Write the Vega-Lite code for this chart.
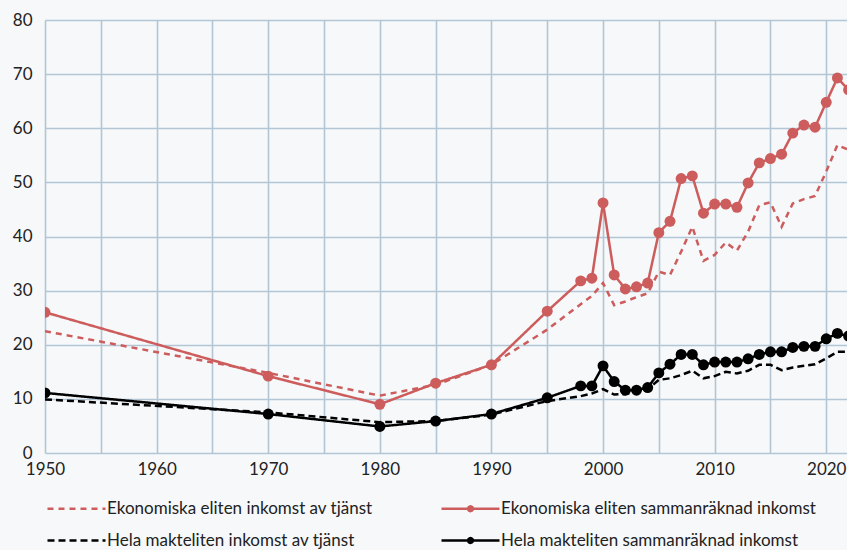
{
  "$schema": "https://vega.github.io/schema/vega-lite/v6.json",
  "autosize": {"type": "none"},
  "width": 802,
  "height": 433,
  "padding": {"left": 45, "top": 20, "right": 0, "bottom": 97},
  "background": "#f6f8fa",
  "config": {
    "view": {"stroke": null},
    "font": "Lato",
    "axis": {"labelFont": "Lato", "labelFontSize": 17, "labelColor": "#222", "gridColor": "#b2c6d5", "gridWidth": 1.6, "domain": false, "ticks": false, "title": null}
  },
  "data": {"values": [
    {"year": 1950, "e_tj": 22.5, "e_sum": 26.0, "h_tj": 9.9, "h_sum": 11.1},
    {"year": 1970, "e_tj": 14.8, "e_sum": 14.2, "h_tj": 7.5, "h_sum": 7.2},
    {"year": 1980, "e_tj": 10.6, "e_sum": 9.0, "h_tj": 5.7, "h_sum": 4.9},
    {"year": 1985, "e_tj": 12.6, "e_sum": 12.9, "h_tj": 5.9, "h_sum": 5.9},
    {"year": 1990, "e_tj": 16.3, "e_sum": 16.3, "h_tj": 7.1, "h_sum": 7.2},
    {"year": 1995, "e_tj": 22.8, "e_sum": 26.2, "h_tj": 9.6, "h_sum": 10.2},
    {"year": 1998, "e_tj": 27.5, "e_sum": 31.8, "h_tj": 10.5, "h_sum": 12.4},
    {"year": 1999, "e_tj": 29.0, "e_sum": 32.3, "h_tj": 11.0, "h_sum": 12.4},
    {"year": 2000, "e_tj": 31.4, "e_sum": 46.2, "h_tj": 11.8, "h_sum": 16.1},
    {"year": 2001, "e_tj": 27.3, "e_sum": 32.9, "h_tj": 10.8, "h_sum": 13.2},
    {"year": 2002, "e_tj": 28.0, "e_sum": 30.3, "h_tj": 10.9, "h_sum": 11.6},
    {"year": 2003, "e_tj": 28.8, "e_sum": 30.7, "h_tj": 11.3, "h_sum": 11.6},
    {"year": 2004, "e_tj": 29.5, "e_sum": 31.4, "h_tj": 11.8, "h_sum": 12.1},
    {"year": 2005, "e_tj": 33.5, "e_sum": 40.7, "h_tj": 13.5, "h_sum": 14.8},
    {"year": 2006, "e_tj": 32.9, "e_sum": 42.8, "h_tj": 13.8, "h_sum": 16.4},
    {"year": 2007, "e_tj": 37.2, "e_sum": 50.7, "h_tj": 14.4, "h_sum": 18.2},
    {"year": 2008, "e_tj": 41.8, "e_sum": 51.2, "h_tj": 15.2, "h_sum": 18.2},
    {"year": 2009, "e_tj": 35.5, "e_sum": 44.3, "h_tj": 13.8, "h_sum": 16.3},
    {"year": 2010, "e_tj": 36.6, "e_sum": 46.0, "h_tj": 14.2, "h_sum": 16.8},
    {"year": 2011, "e_tj": 38.9, "e_sum": 46.0, "h_tj": 15.0, "h_sum": 16.8},
    {"year": 2012, "e_tj": 37.4, "e_sum": 45.4, "h_tj": 14.7, "h_sum": 16.8},
    {"year": 2013, "e_tj": 40.9, "e_sum": 49.9, "h_tj": 15.2, "h_sum": 17.4},
    {"year": 2014, "e_tj": 45.8, "e_sum": 53.6, "h_tj": 16.3, "h_sum": 18.2},
    {"year": 2015, "e_tj": 46.3, "e_sum": 54.4, "h_tj": 16.3, "h_sum": 18.7},
    {"year": 2016, "e_tj": 41.8, "e_sum": 55.2, "h_tj": 15.3, "h_sum": 18.7},
    {"year": 2017, "e_tj": 46.1, "e_sum": 59.1, "h_tj": 15.8, "h_sum": 19.5},
    {"year": 2018, "e_tj": 46.9, "e_sum": 60.6, "h_tj": 16.1, "h_sum": 19.7},
    {"year": 2019, "e_tj": 47.5, "e_sum": 60.2, "h_tj": 16.4, "h_sum": 19.7},
    {"year": 2020, "e_tj": 52.0, "e_sum": 64.8, "h_tj": 17.5, "h_sum": 21.1},
    {"year": 2021, "e_tj": 56.9, "e_sum": 69.3, "h_tj": 18.7, "h_sum": 22.1},
    {"year": 2022, "e_tj": 56.0, "e_sum": 67.1, "h_tj": 18.7, "h_sum": 21.6}
  ]},
  "transform": [
    {"fold": ["e_tj", "e_sum", "h_tj", "h_sum"], "as": ["key", "value"]},
    {"lookup": "key", "from": {"data": {"values": [
      {"key": "e_tj", "series": "Ekonomiska eliten inkomst av tjänst"},
      {"key": "e_sum", "series": "Ekonomiska eliten sammanräknad inkomst"},
      {"key": "h_tj", "series": "Hela makteliten inkomst av tjänst"},
      {"key": "h_sum", "series": "Hela makteliten sammanräknad inkomst"}
    ]}, "key": "key", "fields": ["series"]}}
  ],
  "encoding": {
    "x": {"field": "year", "type": "quantitative", "scale": {"domain": [1950, 2021.86], "nice": false, "zero": false},
      "axis": {"values": [1950,1955,1960,1965,1970,1975,1980,1985,1990,1995,2000,2005,2010,2015,2020], "format": "d", "labelExpr": "datum.value % 10 == 0 ? datum.label : ''", "labelPadding": 8, "labelFlush": false}},
    "y": {"field": "value", "type": "quantitative", "scale": {"domain": [0, 80], "nice": false},
      "axis": {"values": [0,10,20,30,40,50,60,70,80], "labelPadding": 13}}
  },
  "layer": [
    {
      "mark": {"type": "line", "clip": true},
      "encoding": {
        "color": {"field": "series", "type": "nominal",
          "scale": {"domain": ["Ekonomiska eliten inkomst av tjänst", "Ekonomiska eliten sammanräknad inkomst", "Hela makteliten inkomst av tjänst", "Hela makteliten sammanräknad inkomst"], "range": ["#cd5c5c", "#cd5c5c", "#000000", "#000000"]},
          "legend": {"orient": "none", "direction": "horizontal", "legendX": 10, "legendY": 467, "columns": 2, "title": null, "symbolType": "stroke", "symbolSize": 1600, "symbolStrokeWidth": 2.5, "labelFont": "Lato", "labelFontSize": 17, "labelColor": "#222", "labelOffset": 9, "columnPadding": 63, "rowPadding": 2, "labelLimit": 400,
            "encode": {"symbols": {"update": {
              "shape": {"signal": "indexof(datum.value, 'sammanr') >= 0 ? 'M-1.45,0L1.45,0M-0.12,0a0.12,0.12 0 1,0 0.24,0a0.12,0.12 0 1,0 -0.24,0' : 'M-1.45,0L1.45,0'"},
              "fill": {"signal": "indexof(datum.value, 'Ekonomiska') >= 0 ? '#cd5c5c' : '#000000'"}
            }}}}},
        "strokeDash": {"field": "series", "type": "nominal",
          "scale": {"domain": ["Ekonomiska eliten inkomst av tjänst", "Ekonomiska eliten sammanräknad inkomst", "Hela makteliten inkomst av tjänst", "Hela makteliten sammanräknad inkomst"], "range": [[6, 5], [1, 0], [7, 4], [1, 0]]}},
        "strokeWidth": {"field": "series", "type": "nominal", "legend": null,
          "scale": {"domain": ["Ekonomiska eliten inkomst av tjänst", "Ekonomiska eliten sammanräknad inkomst", "Hela makteliten inkomst av tjänst", "Hela makteliten sammanräknad inkomst"], "range": [2.5, 2.5, 2.8, 2.8]}}
      }
    },
    {
      "transform": [{"filter": "indexof(datum.key, 'sum') >= 0"}],
      "mark": {"type": "point", "filled": true, "size": 120, "opacity": 1, "clip": true},
      "encoding": {
        "color": {"field": "series", "type": "nominal"}
      }
    }
  ]
}
